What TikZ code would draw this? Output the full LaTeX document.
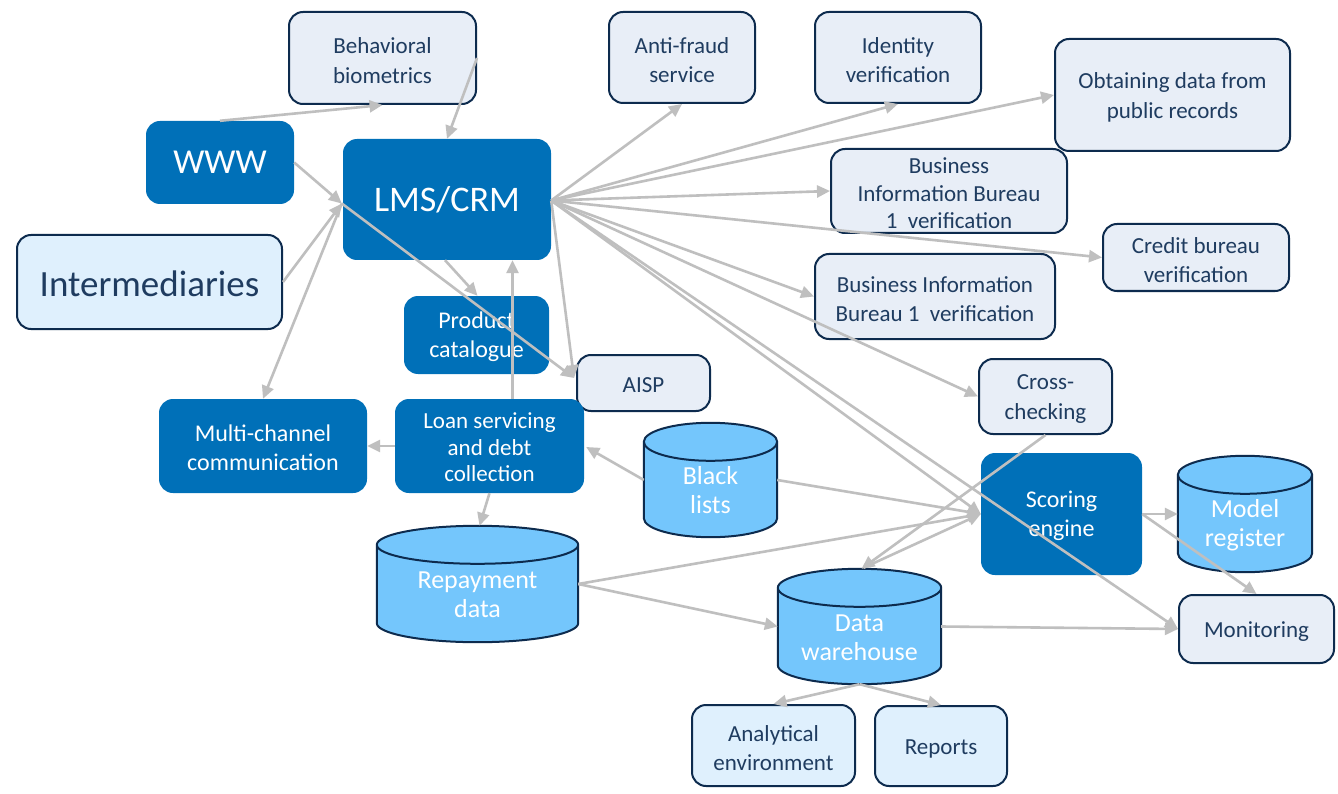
\documentclass[tikz,border=0pt]{standalone}
\usepackage{fontspec}
\setmainfont{Carlito}
\usetikzlibrary{arrows.meta,calc}
\definecolor{dblue}{HTML}{0070B8}
\definecolor{lfill}{HTML}{E8EEF7}
\definecolor{lfillb}{HTML}{DFF0FD}
\definecolor{cfill}{HTML}{74C6FC}
\definecolor{navy}{HTML}{0D2B4E}
\definecolor{ltext}{HTML}{1F3C60}
\definecolor{arr}{HTML}{BFBFBF}
\tikzset{
 box/.style={rounded corners=14pt, inner sep=0pt},
 lbox/.style={box, draw=navy, line width=2pt, fill=lfill},
 lboxb/.style={lbox, fill=lfillb},
 dbox/.style={box, fill=dblue},
 ltx/.style={align=center, inner sep=0pt, text=ltext, yshift=-2.5pt, font=\fontsize{23}{29.5}\selectfont},
 dtx/.style={align=center, inner sep=0pt, text=white, yshift=-1.5pt, font=\fontsize{24}{29}\selectfont},
 cylbox/.style={inner sep=0pt},
 cylshape/.style={fill=cfill, draw=navy, line width=2pt},
 cyltext/.style={text=white, align=center, inner sep=0pt, font=\fontsize{26}{29}\selectfont},
 conn/.style={draw=arr, line width=2.6pt, -{Triangle[length=13pt,width=12pt]}}
}
\newcommand\drawcyl[2]{%
 \path[cylshape] let \p1=(#1.north west), \p2=(#1.south east), \n1={(\x2-\x1)/2} in
   (\x1,\y1-#2pt) -- (\x1,\y2+#2pt) arc[start angle=180,end angle=360,x radius=\n1,y radius=#2pt]
   -- (\x2,\y1-#2pt) arc[start angle=0,end angle=180,x radius=\n1,y radius=#2pt] -- cycle
   (\x1,\y1-#2pt) arc[start angle=180,end angle=360,x radius=\n1,y radius=#2pt];
}
\begin{document}
\begin{tikzpicture}[x=1pt,y=-1pt]
\useasboundingbox[fill=white] (0,0) rectangle (1338,794);

% light boxes
\node[lbox, minimum width=187, minimum height=92, label={[ltx]center:{Behavioral\\biometrics}}] (beh) at (382.5,58) {};
\node[lbox, minimum width=146, minimum height=91, label={[ltx]center:{Anti-fraud\\service}}] (anti) at (682,57.5) {};
\node[lbox, minimum width=166, minimum height=91, label={[ltx]center:{Identity\\verification}}] (ident) at (898,57.5) {};
\node[lbox, minimum width=235, minimum height=112, label={[ltx]center:{Obtaining data from\\public records}}] (obtain) at (1172.5,95) {};
\node[lbox, minimum width=236, minimum height=84, label={[ltx, font=\fontsize{23}{27.5}\selectfont]center:{Business\\Information Bureau\\1\ \ verification}}] (bib1) at (949,191) {};
\node[lbox, minimum width=186, minimum height=67, label={[ltx]center:{Credit bureau\\verification}}] (credit) at (1196,257.5) {};
\node[lbox, minimum width=240, minimum height=85, label={[ltx]center:{Business Information\\Bureau 1\ \ verification}}] (bib2) at (935,296.5) {};
\node[lbox, minimum width=133, minimum height=75, label={[ltx]center:{Cross-\\checking}}] (cross) at (1045.5,396.5) {};
\node[lbox, minimum width=133, minimum height=56, label={[ltx]center:{AISP}}] (aisp) at (643.5,383) {};
\node[lbox, minimum width=155, minimum height=68, label={[ltx]center:{Monitoring}}] (monitor) at (1256.5,629) {};
\node[lboxb, minimum width=163, minimum height=81, label={[ltx]center:{Analytical\\environment}}] (analyt) at (773.5,745.5) {};
\node[lboxb, minimum width=132, minimum height=80, label={[ltx]center:{Reports}}] (reports) at (941,746) {};
\node[lboxb, minimum width=265, minimum height=94, label={[ltx, yshift=1pt, font=\fontsize{37}{40}\selectfont]center:{Intermediaries}}] (inter) at (149.5,282) {};

% dark boxes
\node[dbox, minimum width=148, minimum height=83, label={[dtx, yshift=1.5pt, font=\fontsize{35}{40}\selectfont]center:{WWW}}] (www) at (220,162.5) {};
\node[dbox, minimum width=208, minimum height=121, label={[dtx, yshift=1.5pt, font=\fontsize{36}{40}\selectfont]center:{LMS/CRM}}] (lms) at (447,199.5) {};
\node[dbox, minimum width=145, minimum height=78, label={[dtx]center:{Product\\catalogue}}] (prod) at (476.5,335) {};
\node[dbox, minimum width=208, minimum height=94, label={[dtx]center:{Multi-channel\\communication}}] (multi) at (263,446) {};
\node[dbox, minimum width=189, minimum height=94, label={[dtx, font=\fontsize{23}{26.5}\selectfont]center:{Loan servicing\\and debt\\collection}}] (loan) at (489.5,446) {};
\node[dbox, minimum width=161, minimum height=122, label={[dtx]center:{Scoring\\engine}}] (scoring) at (1061.5,514) {};

% cylinders
\node[cylbox, minimum width=133, minimum height=114] (black) at (710.5,480) {};
\node[cylbox, minimum width=134, minimum height=116] (model) at (1245,514) {};
\node[cylbox, minimum width=201, minimum height=116] (repay) at (477.5,584) {};
\node[cylbox, minimum width=163, minimum height=115] (dw) at (859.5,626.5) {};
\drawcyl{black}{19}
\drawcyl{model}{19}
\drawcyl{repay}{19}
\drawcyl{dw}{19}
\node[cyltext] (blackt) at ($(black)+(0,10)$) {Black\\lists};
\node[cyltext] (modelt) at ($(model)+(0,11.5)$) {Model\\register};
\node[cyltext] (repayt) at ($(repay)+(0,11)$) {Repayment\\data};
\node[cyltext] (dwt) at ($(dw)+(0,11)$) {Data\\warehouse};

% connector end points
\coordinate (lmsL) at ($(lms.west)+(-1,4)$);
\coordinate (lmsR) at ($(lms.east)+(0,1)$);
\coordinate (aispL) at ($(aisp.west)+(-2,-5)$);
\coordinate (loanT) at ($(loan.north)+(23,0)$);

% connectors
\draw[conn] (www.north) -- (beh.south);
\draw[conn] (beh.east) -- (lms.north);
\draw[conn] (www.east) -- (lmsL);
\draw[conn] (inter.east) -- (lmsL);
\draw[conn] (lmsL) -- (multi.north);
\draw[conn] (lmsL) -- (aispL);
\draw[conn] (lmsR) -- (aispL);
\draw[conn] ($(lms.south)+(-2,0)$) -- ($(prod.north)+(1,0)$);
\draw[conn] (loanT) -- (loanT |- lms.south);
\draw[conn] (loan.west) -- (multi.east);
\draw[conn] (loan.south) -- ($(repay.north)+(2,0)$);
\draw[conn] (black.west) -- ($(loan.east)+(2,1)$);
\draw[conn] (lmsR) -- (anti.south);
\draw[conn] (lmsR) -- (ident.south);
\draw[conn] (lmsR) -- (obtain.west);
\draw[conn] (lmsR) -- (bib1.west);
\draw[conn] (lmsR) -- (credit.west);
\draw[conn] (lmsR) -- (bib2.west);
\draw[conn] (lmsR) -- (cross.west);
\draw[conn] (lmsR) -- (scoring.west);
\draw[conn] (lmsR) -- (monitor.west);
\draw[conn] (black.east) -- (scoring.west);
\draw[conn] (repay.east) -- (scoring.west);
\draw[conn] (repay.east) -- (dw.west);
\draw[conn] (cross.south) -- ($(dw.north)+(2,0)$);
\draw[conn] ($(dw.north)+(4,-1)$) -- (scoring.west);
\draw[conn] (scoring.east) -- (model.west);
\draw[conn] (scoring.east) -- (monitor.north);
\draw[conn] (dw.east) -- (monitor.west);
\draw[conn] (dw.south) -- (analyt.north);
\draw[conn] (dw.south) -- (reports.north);
\end{tikzpicture}
\end{document}
